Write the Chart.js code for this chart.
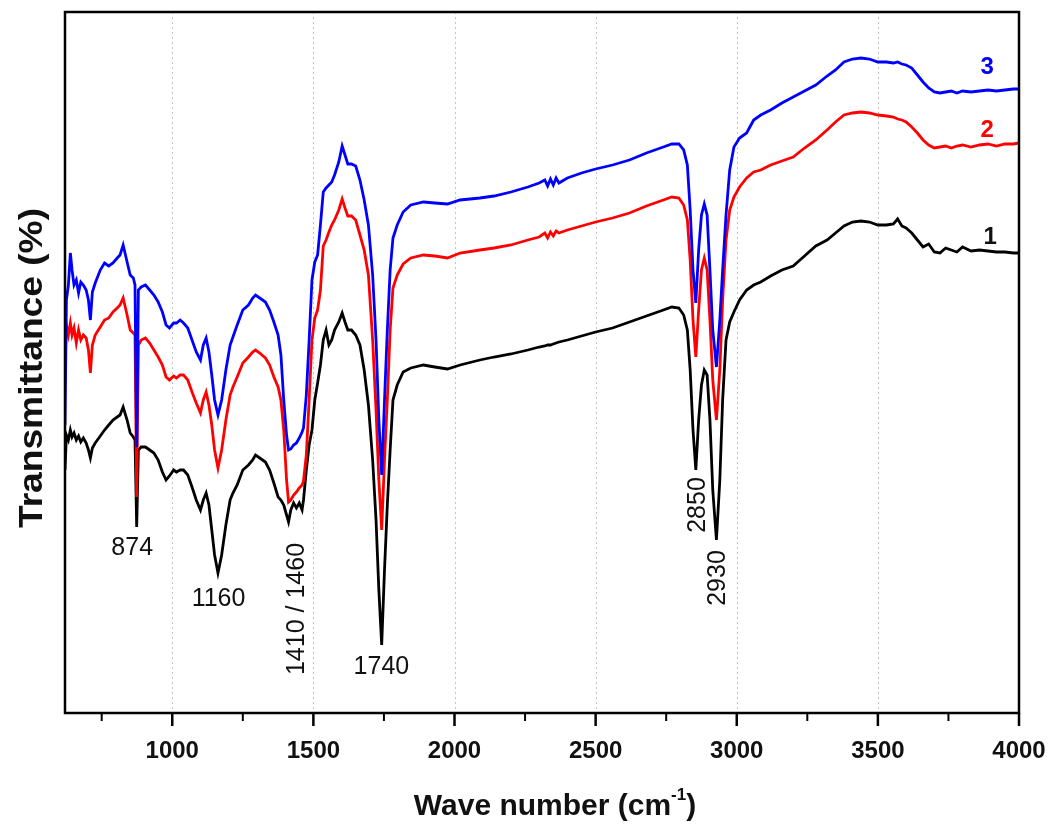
<!DOCTYPE html>
<html>
<head>
<meta charset="utf-8">
<script src="https://cdn.jsdelivr.net/npm/chart.js@4.4.1/dist/chart.umd.min.js"></script>
<style>
html,body{margin:0;padding:0;background:#fff;}
#wrap{width:1053px;height:826px;position:relative;}
canvas{display:block;}
</style>
</head>
<body>
<div id="wrap"><canvas id="c" width="1053" height="826"></canvas></div>
<script>
// ---------------- DATA ----------------
const wavenumber = [
  620,625,632,639,645,652,660,668,676,685,
  695,703,710,717,727,745,760,775,790,805,
  815,826,840,851,862,868,874,880,890,905,
  920,935,950,965,978,990,1005,1015,1028,1040,
  1055,1070,1085,1100,1110,1120,1130,1140,1150,1162,
  1175,1190,1205,1215,1230,1250,1270,1285,1295,1310,
  1330,1345,1360,1375,1385,1395,1405,1412,1420,1430,
  1440,1450,1460,1465,1475,1485,1495,1505,1515,1525,
  1535,1545,1555,1565,1575,1590,1602,1612,1622,1635,
  1650,1665,1680,1695,1710,1722,1732,1742,1752,1762,
  1772,1782,1797,1818,1845,1890,1930,1975,2020,2090,
  2140,2200,2260,2300,2320,2330,2340,2350,2360,2370,
  2400,2450,2500,2560,2620,2680,2740,2770,2795,2812,
  2825,2835,2845,2855,2865,2875,2885,2895,2905,2915,
  2928,2940,2950,2962,2975,2990,3010,3035,3060,3085,
  3120,3160,3200,3240,3280,3320,3350,3380,3410,3440,
  3470,3500,3530,3555,3570,3585,3600,3620,3640,3660,
  3680,3700,3720,3740,3760,3780,3800,3830,3860,3890,
  3920,3950,3980,4000
];
// sample 1 (black)
const sample1 = [
  243,278,273,283,276,280,273,277,271,275,
  270,263,255,265,270,277,283,288,293,296,
  298,306,293,280,276,273,186,263,266,266,
  263,260,253,241,233,237,243,241,243,243,
  238,226,213,203,213,220,208,183,158,140,
  158,188,213,220,228,243,248,253,258,255,
  251,243,230,216,213,208,198,191,203,210,
  205,210,203,213,243,268,283,313,330,348,
  373,383,368,373,383,391,400,391,383,383,
  378,368,343,308,253,193,123,68,143,208,
  263,313,328,341,345,348,346,344,348,353,
  356,359,363,366,367,368,368,369,370,371,
  373,377,381,385,391,397,403,406,405,398,
  383,343,283,243,293,328,343,338,293,223,
  173,233,313,373,391,401,413,423,428,431,
  437,443,447,457,467,473,480,487,491,492,
  491,488,488,489,494,487,485,480,473,466,
  469,461,460,465,463,461,466,462,463,462,
  461,461,460,460
];
// sample 2 (red)
const sample2 = [
  348,388,378,390,378,385,370,383,373,378,
  375,363,340,368,378,386,393,395,401,405,
  408,415,398,383,380,378,216,368,373,375,
  370,363,356,348,336,333,337,335,338,338,
  333,321,310,300,313,321,308,288,263,245,
  263,293,318,326,336,350,356,361,363,360,
  355,348,336,326,313,283,233,211,213,218,
  221,225,228,232,258,313,373,395,403,423,
  467,473,481,488,493,503,514,505,497,497,
  493,478,463,438,373,303,233,183,253,313,
  383,425,438,449,455,458,457,455,460,463,
  465,468,473,476,480,475,481,477,482,480,
  483,487,491,495,500,507,513,516,515,508,
  493,453,393,356,403,443,455,443,393,333,
  293,343,413,473,503,516,526,535,541,543,
  548,552,556,565,573,583,591,598,600,601,
  600,598,597,596,594,593,591,586,580,573,
  568,565,566,567,565,567,568,566,568,569,
  567,569,569,570
];
// sample 3 (blue)
const sample3 = [
  288,413,428,460,443,428,433,420,431,428,
  423,413,393,421,430,443,450,447,450,455,
  458,468,451,438,435,428,266,423,426,428,
  423,418,411,401,388,385,390,390,393,390,
  385,373,361,353,368,375,361,338,313,298,
  313,343,368,376,388,403,408,415,418,415,
  411,403,391,378,358,313,278,263,264,268,
  270,275,281,285,318,373,433,451,458,488,
  521,525,528,531,538,551,567,558,549,549,
  547,533,513,488,438,373,293,238,313,383,
  443,475,488,501,508,511,510,509,513,515,
  517,521,526,530,533,527,534,528,535,530,
  535,540,544,548,553,560,566,569,569,563,
  548,503,443,410,463,498,509,498,443,383,
  346,393,443,498,543,566,575,580,593,598,
  603,610,616,622,628,637,643,651,654,655,
  654,651,651,650,651,649,648,645,638,631,
  625,621,620,621,622,620,622,621,622,623,
  622,623,624,624
];
const seriesNames = ['1', '2', '3'];
const xMajorTicks = [1000, 1500, 2000, 2500, 3000, 3500, 4000];
const xMinorTicks = [750, 1250, 1750, 2250, 2750, 3250, 3750];
const peakNames = ['874', '1160', '1410 / 1460', '1740', '2850', '2930'];

// ---------------- PRESENTATION ----------------
const FONT = '"Liberation Sans", Arial, Helvetica, sans-serif';
const colors = {'1': '#000000', '2': '#ff0000', '3': '#0000ff'};
const peakAnchors = [
  {x: 858,  y: 165, rot: false},
  {x: 1164, y: 114, rot: false},
  {x: 1443, y: 104, rot: true},
  {x: 1741, y: 46,  rot: false},
  {x: 2862, y: 208, rot: true},
  {x: 2935, y: 135, rot: true}
];
const seriesLabelAnchors = {'3': {x: 3887, y: 646}, '2': {x: 3887, y: 583}, '1': {x: 3898, y: 476}};

const toPoints = ys => wavenumber.map((w, i) => ({x: w, y: ys[i]}));
const seriesData = {'1': sample1, '2': sample2, '3': sample3};

const decorPlugin = {
  id: 'decor',
  beforeDatasetsDraw(chart) {
    const {ctx, chartArea: a} = chart;
    const xs = chart.scales.x;
    ctx.save();
    ctx.strokeStyle = '#c4c4c4';
    ctx.lineWidth = 1;
    ctx.setLineDash([2, 3]);
    xMajorTicks.forEach(v => {
      if (v >= 4000) return;
      const px = Math.round(xs.getPixelForValue(v)) + 0.5;
      ctx.beginPath(); ctx.moveTo(px, a.top); ctx.lineTo(px, a.bottom); ctx.stroke();
    });
    ctx.restore();
  },
  afterDatasetsDraw(chart) {
    const {ctx, chartArea: a} = chart;
    const xs = chart.scales.x, ys = chart.scales.y;
    ctx.save();
    // frame
    ctx.strokeStyle = '#000';
    ctx.lineWidth = 2.5;
    ctx.strokeRect(a.left, a.top, a.right - a.left, a.bottom - a.top);
    // ticks
    ctx.lineWidth = 2.5;
    xMajorTicks.forEach(v => {
      const px = xs.getPixelForValue(v);
      ctx.beginPath(); ctx.moveTo(px, a.bottom); ctx.lineTo(px, a.bottom + 13); ctx.stroke();
    });
    ctx.lineWidth = 2;
    xMinorTicks.forEach(v => {
      const px = xs.getPixelForValue(v);
      ctx.beginPath(); ctx.moveTo(px, a.bottom); ctx.lineTo(px, a.bottom + 8); ctx.stroke();
    });
    // peak labels
    ctx.fillStyle = '#111';
    ctx.font = '25px ' + FONT;
    ctx.textAlign = 'center';
    ctx.textBaseline = 'middle';
    peakNames.forEach((t, i) => {
      const an = peakAnchors[i];
      const px = xs.getPixelForValue(an.x), py = ys.getPixelForValue(an.y);
      ctx.save();
      ctx.translate(px, py);
      if (an.rot) ctx.rotate(-Math.PI / 2);
      ctx.fillText(t, 0, 0);
      ctx.restore();
    });
    // series labels
    ctx.font = 'bold 24px ' + FONT;
    seriesNames.forEach(n => {
      const an = seriesLabelAnchors[n];
      ctx.fillStyle = colors[n] === '#000000' ? '#111' : colors[n];
      ctx.fillText(n, xs.getPixelForValue(an.x), ys.getPixelForValue(an.y));
    });
    // x title with superscript
    ctx.fillStyle = '#111';
    ctx.textAlign = 'left';
    ctx.textBaseline = 'alphabetic';
    const main = 'Wave number (cm', sup = '-1', close = ')';
    ctx.font = 'bold 30px ' + FONT;
    const w1 = ctx.measureText(main).width, w3 = ctx.measureText(close).width;
    ctx.font = 'bold 17px ' + FONT;
    const w2 = ctx.measureText(sup).width;
    let sx = 555 - (w1 + w2 + w3) / 2;
    const base = 815;
    ctx.font = 'bold 30px ' + FONT;
    ctx.fillText(main, sx, base); sx += w1;
    ctx.font = 'bold 17px ' + FONT;
    ctx.fillText(sup, sx, base - 15); sx += w2;
    ctx.font = 'bold 30px ' + FONT;
    ctx.fillText(close, sx, base);
    // y title
    const yt = 'Transmittance (%)';
    ctx.font = 'bold 33px ' + FONT;
    const wy = ctx.measureText(yt).width;
    ctx.save();
    ctx.translate(42, 368);
    ctx.rotate(-Math.PI / 2);
    ctx.scale(320 / wy, 1);
    ctx.textAlign = 'center';
    ctx.fillText(yt, 0, 0);
    ctx.restore();
    ctx.restore();
  }
};

const datasets = ['3', '2', '1'].map(n => ({
  label: n,
  data: toPoints(seriesData[n]),
  borderColor: colors[n],
  backgroundColor: colors[n],
  borderWidth: 2.8,
  pointRadius: 0,
  tension: 0,
  fill: false
}));

new Chart(document.getElementById('c').getContext('2d'), {
  type: 'line',
  data: {datasets},
  options: {
    responsive: false,
    animation: false,
    devicePixelRatio: 1,
    layout: {padding: {left: 65, right: 34, top: 12, bottom: 0}},
    plugins: {legend: {display: false}, tooltip: {enabled: false}},
    scales: {
      x: {
        type: 'linear', min: 620, max: 4000,
        grid: {display: false},
        border: {display: false},
        afterBuildTicks: s => { s.ticks = xMajorTicks.map(v => ({value: v})); },
        afterFit: s => { s.height = 113; s.paddingLeft = 0; s.paddingRight = 0; },
        ticks: {
          autoSkip: false, maxRotation: 0, padding: 16, color: '#111',
          font: {family: FONT, size: 24, weight: 'bold'},
          callback: v => String(v)
        }
      },
      y: {display: false, min: 0, max: 701}
    }
  },
  plugins: [decorPlugin]
});
</script>
</body>
</html>
